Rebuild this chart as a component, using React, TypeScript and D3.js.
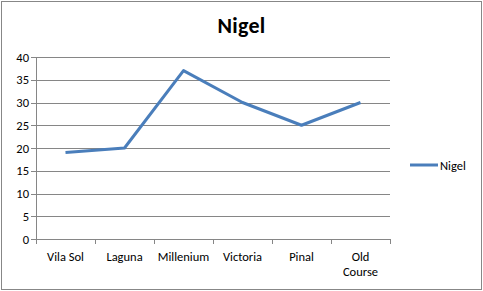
import React from "react";
import * as d3 from "d3";

const categories: string[][] = [["Vila Sol"], ["Laguna"], ["Millenium"], ["Victoria"], ["Pinal"], ["Old", "Course"]];
const seriesName = "Nigel";
const values: number[] = [19, 20, 37, 30, 25, 30];
const yTicks: number[] = [0, 5, 10, 15, 20, 25, 30, 35, 40];

const W = 483, H = 291;
const left = 36, right = 390, top = 57, bottom = 239;
const font = "Calibri, Carlito, Lato, 'Open Sans', 'Noto Sans', sans-serif";

export default function App() {
  const keys = categories.map((_, i) => String(i));
  const x = d3.scaleBand<string>().domain(keys).range([left, right]).padding(0);
  const y = d3.scaleLinear().domain([0, 40]).range([bottom, top]);
  const line = d3.line<number>()
    .x((_, i) => (x(String(i)) as number) + x.bandwidth() / 2)
    .y((d) => y(d));
  const boundaries = d3.range(categories.length + 1).map((i) =>
    i < categories.length ? (x(String(i)) as number) : right
  );
  return (
    <svg width={W} height={H} style={{ position: "absolute", left: 0, top: 0 }} fontFamily={font}>
      <rect x={1.5} y={1.5} width={W - 3} height={H - 3} fill="#fff" stroke="#878787" strokeWidth={1} />
      <text x={241.5} y={33} textAnchor="middle" fontSize={22} fontWeight="bold" fill="#000" letterSpacing={0.3}>{seriesName}</text>
      {yTicks.map((t) => (
        <g key={t}>
          <line x1={left} x2={right} y1={Math.round(y(t)) + 0.5} y2={Math.round(y(t)) + 0.5} stroke="#868686" strokeWidth={1} />
          <line x1={left - 5} x2={left} y1={Math.round(y(t)) + 0.5} y2={Math.round(y(t)) + 0.5} stroke="#868686" strokeWidth={1} />
          <text x={29} y={y(t) + 4.5} textAnchor="end" fontSize={12.5} fill="#000">{t}</text>
        </g>
      ))}
      <line x1={left + 0.5} x2={left + 0.5} y1={top} y2={bottom + 5} stroke="#868686" strokeWidth={1} />
      {boundaries.map((b, i) => (
        <line key={i} x1={Math.round(b) + 0.5} x2={Math.round(b) + 0.5} y1={bottom} y2={bottom + 5} stroke="#868686" strokeWidth={1} />
      ))}
      {categories.map((lines, i) => (
        <text key={i} textAnchor="middle" fontSize={12.5} fill="#000">
          {lines.map((l, j) => (
            <tspan key={j} x={(x(String(i)) as number) + x.bandwidth() / 2} y={261 + j * 15}>{l}</tspan>
          ))}
        </text>
      ))}
      <path d={line(values) || ""} fill="none" stroke="#4A7EBB" strokeWidth={3} strokeLinejoin="round" />
      <line x1={410} x2={438} y1={165} y2={165} stroke="#4A7EBB" strokeWidth={3} />
      <text x={440} y={169.5} fontSize={12.5} fill="#000">{seriesName}</text>
    </svg>
  );
}
